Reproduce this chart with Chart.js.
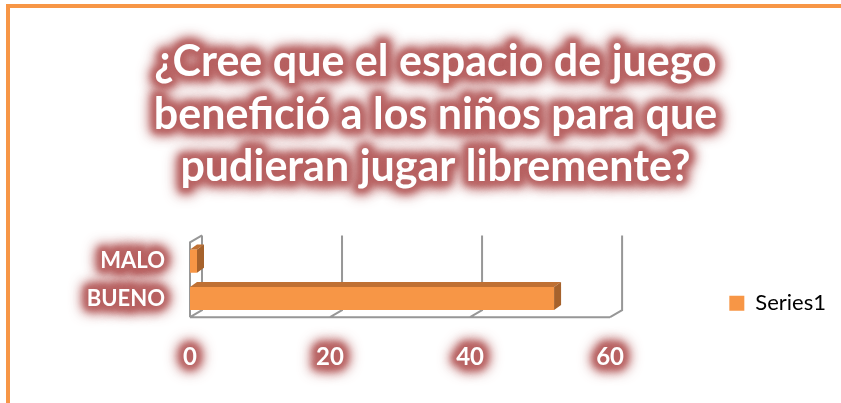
<!DOCTYPE html>
<html>
<head>
<meta charset="utf-8">
<script src="https://cdn.jsdelivr.net/npm/chart.js@4.4.0/dist/chart.umd.min.js"></script>
<style>
    html, body { margin: 0; padding: 0; background: #fff; }
    #wrap { position: relative; width: 841px; height: 403px; overflow: hidden; }
    #frame {
        position: absolute; left: 6px; top: 4px; width: 900px; height: 500px;
        border-top: 4px solid #f79646; border-left: 4px solid #f79646;
    }
    #myChart { position: absolute; left: 0; top: 0; }
</style>
</head>
<body>
<div id="wrap">
    <div id="frame"></div>
    <canvas id="myChart" width="841" height="403"></canvas>
</div>
<script>
// ==========================================================
// 1. DATA
// ==========================================================
const titleLines = [
    '¿Cree que el espacio de juego',
    'benefició a los niños para que',
    'pudieran jugar libremente?'
];
const categories = ['MALO', 'BUENO'];
const seriesName = 'Series1';
const seriesValues = [1, 52];
const xTicks = [0, 20, 40, 60];

// ==========================================================
// 2. HELPERS / PLUGINS
// ==========================================================
// soft red glow behind the white labels (only the blurred shadow is visible)
function glowText(ctx, text, x, y, font, align, baseline) {
    const off = 10000;
    ctx.save();
    ctx.font = font;
    ctx.textAlign = align;
    ctx.textBaseline = baseline;
    ctx.lineJoin = 'round';
    ctx.shadowOffsetX = off;
    ctx.strokeStyle = '#000';
    ctx.lineWidth = 11;
    ctx.shadowColor = 'rgba(175,80,80,0.9)';
    ctx.shadowBlur = 14;
    ctx.strokeText(text, x - off, y);
    ctx.shadowColor = 'rgba(180,90,90,0.7)';
    ctx.shadowBlur = 8;
    ctx.strokeText(text, x - off, y);
    ctx.lineWidth = 7;
    ctx.shadowColor = 'rgba(185,100,100,0.6)';
    ctx.shadowBlur = 4;
    ctx.strokeText(text, x - off, y);
    ctx.restore();
}

const glowPlugin = {
    id: 'glow',
    beforeDraw(chart) {
        const ctx = chart.ctx;
        const h = Chart.helpers;

        // title lines
        const tb = chart.titleBlock;
        if (tb) {
            const f = h.toFont(tb.options.font);
            const pad = h.toPadding(tb.options.padding);
            const cx = (tb.left + tb.right) / 2;
            let y = tb.top + pad.top + f.lineHeight / 2;
            titleLines.forEach(line => {
                glowText(ctx, line, cx, y, f.string, 'center', 'middle');
                y += f.lineHeight;
            });
        }

        // tick labels of both axes
        ['x', 'y'].forEach(id => {
            chart.scales[id].getLabelItems().forEach(item => {
                const o = item.options;
                ctx.save();
                ctx.translate(o.translation[0], o.translation[1]);
                if (o.rotation) ctx.rotate(o.rotation);
                glowText(ctx, String(item.label), 0, item.textOffset, item.font.string, o.textAlign, o.textBaseline);
                ctx.restore();
            });
        });
    }
};

// 3D walls + bar sides
const depthPlugin = {
    id: 'depth3d',
    beforeDatasetsDraw(chart) {
        const { ctx, chartArea: a, scales: { x } } = chart;
        const dx = 12, dy = 7;
        const x0 = x.getPixelForValue(xTicks[0]);
        const x1 = x.getPixelForValue(xTicks[xTicks.length - 1]);
        ctx.save();
        ctx.strokeStyle = '#979797';
        ctx.lineWidth = 2;
        ctx.beginPath();
        xTicks.forEach(v => {
            const px = x.getPixelForValue(v);
            ctx.moveTo(px + dx, a.top - dy);
            ctx.lineTo(px + dx, a.bottom - dy);
            ctx.lineTo(px, a.bottom);
        });
        ctx.moveTo(x0, a.bottom);
        ctx.lineTo(x1, a.bottom);
        ctx.moveTo(x0 + dx, a.top - dy);
        ctx.lineTo(x0, a.top);
        ctx.lineTo(x0, a.bottom);
        ctx.stroke();
        ctx.restore();
    },
    afterDatasetsDraw(chart) {
        const ctx = chart.ctx;
        const bdx = 7, bdy = 5;
        chart.getDatasetMeta(0).data.forEach(bar => {
            const { x, y, base, height } = bar.getProps(['x', 'y', 'base', 'height'], true);
            const top = y - height / 2, bottom = y + height / 2;
            ctx.save();
            ctx.fillStyle = '#bf7033';
            ctx.beginPath();
            ctx.moveTo(base, top);
            ctx.lineTo(x, top);
            ctx.lineTo(x + bdx, top - bdy);
            ctx.lineTo(base + bdx, top - bdy);
            ctx.closePath();
            ctx.fill();
            ctx.fillStyle = '#a6622c';
            ctx.beginPath();
            ctx.moveTo(x, top);
            ctx.lineTo(x + bdx, top - bdy);
            ctx.lineTo(x + bdx, bottom - bdy);
            ctx.lineTo(x, bottom);
            ctx.closePath();
            ctx.fill();
            ctx.restore();
        });
    }
};

// ==========================================================
// 3. CHART
// ==========================================================
Chart.defaults.font.family = 'Lato';

const ctx = document.getElementById('myChart').getContext('2d');
new Chart(ctx, {
    type: 'bar',
    data: {
        labels: categories,
        datasets: [{
            label: seriesName,
            data: seriesValues,
            backgroundColor: '#f79646',
            borderWidth: 0,
            barPercentage: 0.62,
            categoryPercentage: 1
        }]
    },
    options: {
        indexAxis: 'y',
        responsive: false,
        animation: false,
        devicePixelRatio: 1,
        layout: { padding: { left: 35, right: 5, top: 0, bottom: 5 } },
        scales: {
            x: {
                min: 0,
                max: 76.6,
                grid: { display: false, drawTicks: false },
                border: { display: false },
                afterBuildTicks: s => { s.ticks = xTicks.map(v => ({ value: v })); },
                ticks: {
                    color: '#ffffff',
                    padding: 26,
                    maxRotation: 0,
                    font: { size: 24, weight: 'bold' }
                }
            },
            y: {
                grid: { display: false, drawTicks: false },
                border: { display: false },
                afterFit: s => { s.width = 155; },
                ticks: {
                    color: '#ffffff',
                    padding: 25,
                    autoSkip: false,
                    font: { size: 22, weight: 'bold' }
                }
            }
        },
        plugins: {
            title: {
                display: true,
                text: titleLines,
                color: '#ffffff',
                font: { size: 43, weight: 'bold', lineHeight: 1.22 },
                padding: { top: 36, bottom: 49 }
            },
            legend: {
                position: 'right',
                align: 'end',
                fullSize: false,
                labels: {
                    color: '#000000',
                    boxWidth: 15,
                    boxHeight: 15,
                    padding: 3,
                    font: { size: 22 }
                }
            },
            tooltip: { enabled: false }
        }
    },
    plugins: [glowPlugin, depthPlugin]
});
</script>
</body>
</html>
